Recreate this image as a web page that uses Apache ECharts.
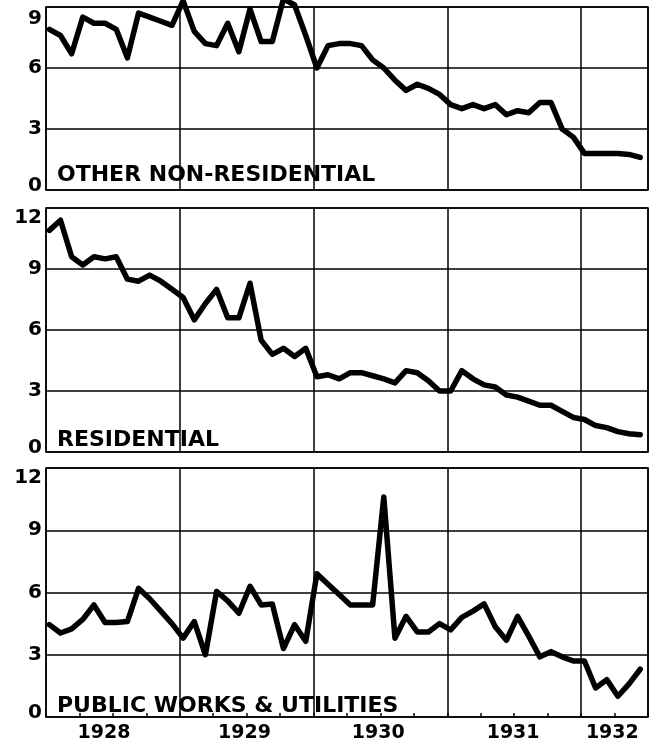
<!DOCTYPE html>
<html>
<head>
<meta charset="utf-8">
<script src="https://cdn.jsdelivr.net/npm/echarts@6/dist/echarts.min.js"></script>
<style>
  html, body { margin: 0; padding: 0; background: #fff; }
  #chart { width: 650px; height: 744px; }
</style>
</head>
<body>
<div id="chart"></div>
<script>
// monthly values, Jan 1928 .. Jun 1932
var otherNonResidential = [
  7.9, 7.6, 6.7, 8.5, 8.2, 8.2, 7.9, 6.5, 8.7, 8.5, 8.3, 8.1,
  9.3, 7.8, 7.2, 7.1, 8.2, 6.8, 8.9, 7.3, 7.3, 9.4, 9.1, 7.6,
  6.0, 7.1, 7.2, 7.2, 7.1, 6.4, 6.0, 5.4, 4.9, 5.2, 5.0, 4.7,
  4.2, 4.0, 4.2, 4.0, 4.2, 3.7, 3.9, 3.8, 4.3, 4.3, 3.0, 2.6,
  1.8, 1.8, 1.8, 1.8, 1.75, 1.6
];
var residential = [
  10.9, 11.4, 9.6, 9.2, 9.6, 9.5, 9.6, 8.5, 8.4, 8.7, 8.4, 8.0,
  7.6, 6.5, 7.3, 8.0, 6.6, 6.6, 8.3, 5.5, 4.8, 5.1, 4.7, 5.1,
  3.7, 3.8, 3.6, 3.9, 3.9, 3.75, 3.6, 3.4, 4.0, 3.9, 3.5, 3.0,
  3.0, 4.0, 3.6, 3.3, 3.2, 2.8, 2.7, 2.5, 2.3, 2.3, 2.0, 1.7,
  1.6, 1.3, 1.2, 1.0, 0.9, 0.85
];
var publicWorks = [
  4.45, 4.05, 4.25, 4.7, 5.4, 4.55, 4.55, 4.6, 6.2, 5.7, 5.1, 4.5,
  3.8, 4.6, 3.0, 6.05, 5.6, 5.0, 6.3, 5.4, 5.45, 3.3, 4.45, 3.65,
  6.9, 6.4, 5.9, 5.4, 5.4, 5.4, 10.6, 3.8, 4.85, 4.1, 4.1, 4.5,
  4.2, 4.8, 5.1, 5.45, 4.35, 3.7, 4.85, 3.9, 2.9, 3.15, 2.9, 2.7,
  2.7, 1.4, 1.8, 1.0, 1.6, 2.3
];
var panelNames = ["OTHER NON-RESIDENTIAL", "RESIDENTIAL", "PUBLIC WORKS & UTILITIES"];
var panelMax = [9, 12, 12];
var yearLabels = ["1928", "1929", "1930", "1931", "1932"];

var chart = echarts.init(document.getElementById("chart"));

var font = "DejaVu Sans";
var ink = "#000";
// where the year names sit, in months from Jan 1928
var yearLabelAt = [5.2, 17.8, 29.8, 41.9, 50.8];

var grids = [
  { left: 46, right: 2, top: 7, bottom: 554 },
  { left: 46, right: 2, top: 208, bottom: 292 },
  { left: 46, right: 2, top: 468, bottom: 27 }
];
grids.forEach(function(g) {
  g.show = true;
  g.borderColor = ink;
  g.borderWidth = 1.5;
  g.backgroundColor = "transparent";
});

var xAxes = [];
var yAxes = [];
var titles = [];
var series = [];
var allData = [otherNonResidential, residential, publicWorks];

for (var k = 0; k < 3; k++) {
  xAxes.push({
    gridIndex: k,
    type: "value",
    position: "bottom",
    min: 0,
    max: 54,
    interval: 12,
    axisLine: { show: false },
    axisTick: { show: false },
    axisLabel: { show: false },
    splitLine: { show: true, lineStyle: { color: ink, width: 1.5 } }
  });
  (function(max) {
    yAxes.push({
      gridIndex: k,
      type: "value",
      min: 0,
      max: max,
      interval: 3,
      axisLine: { show: false },
      axisTick: { show: false },
      splitLine: { show: true, lineStyle: { color: ink, width: 1.5 } },
      axisLabel: {
        margin: 4,
        color: ink,
        fontFamily: font,
        fontWeight: "bold",
        fontSize: 20,
        formatter: function(v) {
          if (v === max) return "{top|" + v + "}";
          if (v === 0) return "{bot|0}";
          return String(v);
        },
        rich: {
          top: { padding: [max === 9 ? 24 : 20, 0, 0, 0], color: ink, fontFamily: font, fontWeight: "bold", fontSize: 20 },
          bot: { padding: [0, 0, 8, 0], color: ink, fontFamily: font, fontWeight: "bold", fontSize: 20 }
        }
      }
    });
  })(panelMax[k]);
  titles.push({
    text: panelNames[k],
    left: 57,
    top: [164.5, 429, 695.5][k],
    padding: 0,
    textStyle: { fontFamily: font, fontWeight: "bold", fontSize: 22, color: ink }
  });
  series.push({
    type: "line",
    xAxisIndex: k,
    yAxisIndex: k,
    data: allData[k].map(function(v, i) { return [i + 0.3, v]; }),
    symbol: "none",
    clip: false,
    lineStyle: { color: ink, width: 5.5, join: "round", cap: "round" }
  });
}

// quarterly ticks and year names under the bottom panel
xAxes.push({
  gridIndex: 2,
  type: "value",
  position: "bottom",
  offset: 0,
  min: 0,
  max: 54,
  interval: 3,
  axisLine: { show: false },
  splitLine: { show: false },
  axisTick: { show: true, inside: true, length: 4, lineStyle: { color: ink, width: 1.5 } },
  axisLabel: {
    customValues: yearLabelAt,
    margin: 7,
    color: ink,
    fontFamily: font,
    fontWeight: "bold",
    fontSize: 19,
    formatter: function(v) {
      var idx = yearLabelAt.indexOf(v);
      return idx >= 0 ? yearLabels[idx] : "";
    }
  }
});

chart.setOption({
  backgroundColor: "#fff",
  animation: false,
  title: titles,
  grid: grids,
  xAxis: xAxes,
  yAxis: yAxes,
  series: series
});
</script>
</body>
</html>
